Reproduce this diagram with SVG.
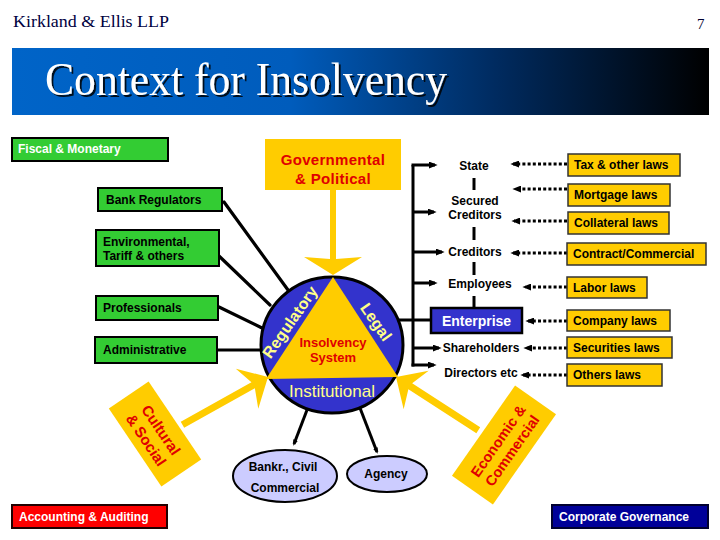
<svg xmlns="http://www.w3.org/2000/svg" width="720" height="540" viewBox="0 0 720 540">
<defs>
<linearGradient id="banner" x1="0" y1="0" x2="1" y2="0">
<stop offset="0" stop-color="#0064C8"/>
<stop offset="0.4" stop-color="#005CBC"/>
<stop offset="0.7" stop-color="#002A5E"/>
<stop offset="1" stop-color="#000000"/>
</linearGradient>
<filter id="sh" x="-5%" y="-20%" width="110%" height="140%">
<feDropShadow dx="2" dy="2" stdDeviation="0.6" flood-color="#000" flood-opacity="0.85"/>
</filter>
<marker id="ah" viewBox="0 0 10 8" refX="7" refY="4" markerWidth="9" markerHeight="7" markerUnits="userSpaceOnUse" orient="auto">
<path d="M0,0 L10,4 L0,8 z" fill="#000"/>
</marker>
<marker id="ahs" viewBox="0 0 10 8" refX="7" refY="4" markerWidth="6" markerHeight="5" markerUnits="userSpaceOnUse" orient="auto">
<path d="M0,0 L10,4 L0,8 z" fill="#000"/>
</marker>
<style>
.b{font-family:"Liberation Sans",Arial,sans-serif;font-weight:bold;fill:#000}
.s12{font-size:12px}
.w{fill:#fff}
.green{fill:#33CC33;stroke:#000;stroke-width:2}
.law{fill:#FFCC00;stroke:#333;stroke-width:1.5}
.ln{stroke:#000;stroke-width:3;fill:none}
.lr{stroke:#000;stroke-width:3.2;fill:none;stroke-linecap:round}
.dot{stroke:#000;stroke-width:3;stroke-dasharray:3 2.2;fill:none}
.yel{fill:#FFCC00}
.red{fill:#E00000}
.pale{fill:#FFFF88}
.ell{fill:#CCCCFF;stroke:#000;stroke-width:2}
</style>
</defs>
<rect width="720" height="540" fill="#fff"/>

<g id="header">
<text x="13" y="27" font-family="Liberation Serif,serif" font-size="17.5" fill="#000040" textLength="156" lengthAdjust="spacingAndGlyphs">Kirkland &amp; Ellis LLP</text>
<text x="697" y="29" font-family="Liberation Serif,serif" font-size="15" fill="#000030">7</text>
<rect x="12" y="48" width="697" height="67" fill="url(#banner)"/>
<text x="45" y="95" font-family="Liberation Serif,serif" font-size="46" fill="#fff" filter="url(#sh)" textLength="402" lengthAdjust="spacingAndGlyphs">Context for Insolvency</text>
</g>

<g id="connectors">
<line class="lr" x1="288" y1="290" x2="224" y2="202"/>
<line class="lr" x1="270" y1="305" x2="219" y2="256"/>
<line class="lr" x1="262" y1="328" x2="219" y2="307"/>
<line class="lr" x1="262" y1="350" x2="218" y2="350"/>
<polygon class="yel" points="330,190 336,190 336,259 362,257 333,275 304,257 330,259"/>
<polygon class="yel" transform="translate(268,377) rotate(-29.2)" points="0,0 -24,-23 -17,-3.5 -98,-3.5 -98,3.5 -17,3.5 -24,23"/>
<polygon class="yel" transform="translate(396,377) rotate(212.9)" points="0,0 -24,-23 -17,-3.5 -98,-3.5 -98,3.5 -17,3.5 -24,23"/>
<line class="ln" x1="413" y1="165" x2="413" y2="366.5"/>
<line class="ln" x1="411.5" y1="165" x2="435" y2="165" marker-end="url(#ah)"/>
<line class="ln" x1="413" y1="212" x2="434" y2="212" marker-end="url(#ah)"/>
<line class="ln" x1="413" y1="252" x2="442" y2="252" marker-end="url(#ah)"/>
<line class="ln" x1="413" y1="283" x2="435" y2="283" marker-end="url(#ah)"/>
<line class="ln" x1="413" y1="348" x2="439" y2="348" marker-end="url(#ah)"/>
<line class="ln" x1="411.5" y1="365" x2="434" y2="365" marker-end="url(#ah)"/>
<line class="ln" x1="398" y1="320" x2="431" y2="320"/>
<line class="ln" x1="474" y1="178" x2="474" y2="190"/>
<line class="ln" x1="474" y1="227" x2="474" y2="240"/>
<line class="ln" x1="474" y1="262" x2="474" y2="275"/>
<line class="ln" x1="474" y1="296" x2="474" y2="308"/>
<line class="dot" x1="567" y1="164" x2="513" y2="164" marker-end="url(#ah)"/>
<line class="dot" x1="567" y1="189" x2="515" y2="189" marker-end="url(#ah)"/>
<line class="dot" x1="567" y1="221" x2="514" y2="221" marker-end="url(#ah)"/>
<line class="dot" x1="567" y1="253" x2="513" y2="253" marker-end="url(#ah)"/>
<line class="dot" x1="567" y1="287" x2="525" y2="287" marker-end="url(#ah)"/>
<line class="dot" x1="567" y1="321" x2="528" y2="321" marker-end="url(#ah)"/>
<line class="dot" x1="567" y1="348" x2="526" y2="348" marker-end="url(#ah)"/>
<line class="dot" x1="567" y1="375" x2="523" y2="375" marker-end="url(#ah)"/>
<line class="ln" x1="307" y1="410" x2="294" y2="444" marker-end="url(#ahs)"/>
<line class="ln" x1="360" y1="408" x2="377" y2="452" marker-end="url(#ahs)"/>
</g>

<g id="fiscal"><rect class="green" x="12" y="138" width="156" height="23"/><text class="b s12 w" x="18" y="153">Fiscal &amp; Monetary</text></g>
<g id="bankreg"><rect class="green" x="98" y="188" width="124" height="23"/><text class="b s12" x="106" y="204">Bank Regulators</text></g>
<g id="environmental"><rect class="green" x="96" y="230" width="123" height="36"/><text class="b s12" x="103" y="246">Environmental,</text><text class="b s12" x="103" y="260">Tariff &amp; others</text></g>
<g id="professionals"><rect class="green" x="96" y="296" width="122" height="24"/><text class="b s12" x="103" y="312">Professionals</text></g>
<g id="administrative"><rect class="green" x="95" y="337" width="122" height="26"/><text class="b s12" x="103" y="354">Administrative</text></g>

<g id="governmental"><rect class="yel" x="265" y="139" width="136" height="51"/>
<text class="b red" x="333" y="165" style="font-size:15px" text-anchor="middle" letter-spacing="0.3">Governmental</text>
<text class="b red" x="333" y="184" style="font-size:15px" text-anchor="middle" letter-spacing="0.3">&amp; Political</text></g>

<g id="insolvency">
<ellipse cx="332" cy="345" rx="71" ry="68" fill="#3333CC" stroke="#000" stroke-width="3"/>
<polygon class="yel" points="333,277 266,379 398,377"/>
<text class="b pale" style="font-size:16px" text-anchor="middle" transform="translate(290,322) rotate(-55)" y="5.5">Regulatory</text>
<text class="b pale" style="font-size:16px" text-anchor="middle" transform="translate(376,322) rotate(55)" y="5.5">Legal</text>
<text class="b red" x="333" y="347" style="font-size:13px" text-anchor="middle">Insolvency</text>
<text class="b red" x="333" y="362" style="font-size:13px" text-anchor="middle">System</text>
<text x="332" y="397" font-family="Liberation Sans,Arial,sans-serif" font-size="17" class="pale" text-anchor="middle">Institutional</text>
</g>

<g id="state"><text class="b s12" x="474" y="170" text-anchor="middle">State</text></g>
<g id="secured"><text class="b s12" x="475" y="205" text-anchor="middle">Secured</text><text class="b s12" x="475" y="219" text-anchor="middle">Creditors</text></g>
<g id="creditors"><text class="b s12" x="475" y="256" text-anchor="middle">Creditors</text></g>
<g id="employees"><text class="b s12" x="480" y="288" text-anchor="middle">Employees</text></g>
<g id="enterprise"><rect x="431" y="308" width="91" height="25" fill="#3333CC" stroke="#000" stroke-width="2.5"/><text class="b w" x="476.5" y="325.5" style="font-size:14px" text-anchor="middle">Enterprise</text></g>
<g id="shareholders"><text class="b s12" x="481" y="352" text-anchor="middle">Shareholders</text></g>
<g id="directors"><text class="b s12" x="481" y="377" text-anchor="middle">Directors etc</text></g>

<g id="tax"><rect class="law" x="568" y="154" width="112" height="22"/><text class="b s12" x="574" y="169">Tax &amp; other laws</text></g>
<g id="mortgage"><rect class="law" x="568" y="184" width="102" height="22"/><text class="b s12" x="574" y="199">Mortgage laws</text></g>
<g id="collateral"><rect class="law" x="568" y="212" width="101" height="22"/><text class="b s12" x="574" y="227">Collateral laws</text></g>
<g id="contract"><rect class="law" x="567" y="243" width="139" height="22"/><text class="b s12" x="573" y="258">Contract/Commercial</text></g>
<g id="labor"><rect class="law" x="567" y="277" width="80" height="21"/><text class="b s12" x="573" y="292">Labor laws</text></g>
<g id="company"><rect class="law" x="567" y="310" width="103" height="21"/><text class="b s12" x="573" y="325">Company laws</text></g>
<g id="securities"><rect class="law" x="567" y="337" width="105" height="21"/><text class="b s12" x="573" y="352">Securities laws</text></g>
<g id="others"><rect class="law" x="567" y="364" width="95" height="22"/><text class="b s12" x="573" y="379">Others laws</text></g>

<g id="cultural" transform="translate(155,434) rotate(56)">
<rect class="yel" x="-47" y="-24" width="94" height="48"/>
<text class="b red" style="font-size:15px" text-anchor="middle" x="0" y="-2">Cultural</text>
<text class="b red" style="font-size:15px" text-anchor="middle" x="0" y="16">&amp; Social</text>
</g>
<g id="economic" transform="translate(504,445) rotate(-55)">
<rect class="yel" x="-55" y="-25" width="110" height="50"/>
<text class="b red" style="font-size:14.5px" text-anchor="middle" x="0" y="-2">Economic &amp;</text>
<text class="b red" style="font-size:14.5px" text-anchor="middle" x="0" y="15">Commercial</text>
</g>

<g id="bankr"><ellipse class="ell" cx="285" cy="476" rx="52" ry="26"/><text class="b s12" x="283" y="471" text-anchor="middle">Bankr., Civil</text><text class="b s12" x="285" y="492" text-anchor="middle">Commercial</text></g>
<g id="agency"><ellipse class="ell" cx="387" cy="474" rx="40" ry="18"/><text class="b s12" x="386" y="478" text-anchor="middle">Agency</text></g>

<g id="accounting"><rect x="12" y="505" width="155" height="23" fill="#FF0000" stroke="#200" stroke-width="2"/><text class="b s12 w" x="19" y="521">Accounting &amp; Auditing</text></g>
<g id="governance"><rect x="552" y="505" width="156" height="23" fill="#000099" stroke="#000030" stroke-width="2"/><text class="b s12 w" x="559" y="521">Corporate Governance</text></g>
</svg>
